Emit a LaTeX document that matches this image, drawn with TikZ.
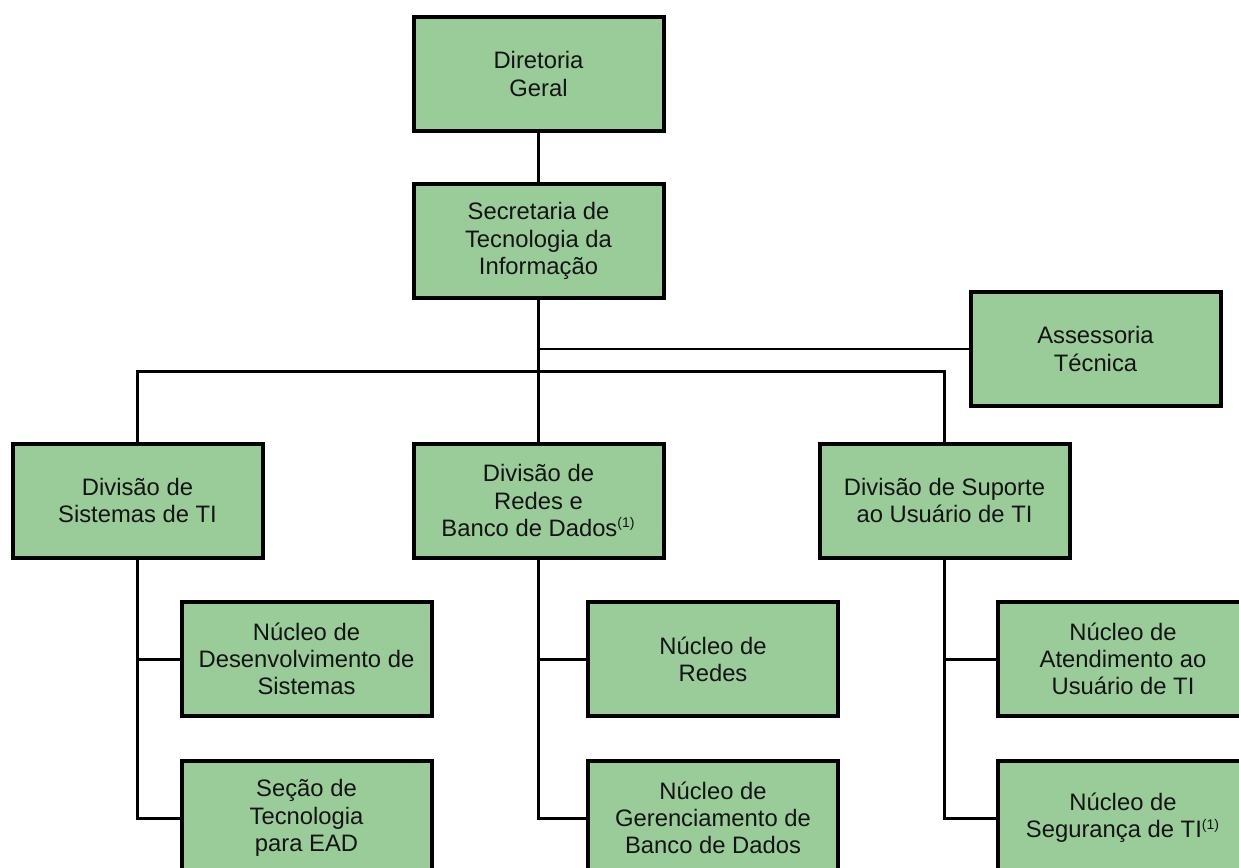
\documentclass[tikz,border=0pt]{standalone}
\usepackage{fontspec}
\setmainfont{Liberation Sans}
\definecolor{boxgreen}{RGB}{153,204,153}
\definecolor{ink}{RGB}{20,20,20}
\begin{document}
\begin{tikzpicture}[x=0.5pt,y=-0.5pt,
  orgbox/.style={draw=black, fill=boxgreen, line width=2pt, minimum width=125pt, minimum height=57pt,
    inner sep=0pt, align=center, text=ink, font=\fontsize{11.9pt}{13.6pt}\selectfont},
  link/.style={line width=1.5pt, black},
  thinlink/.style={line width=1.1pt, black}]
\useasboundingbox (0,0) rectangle (1239,868);
\clip (0,0) rectangle (1239,868);
\newcommand{\supone}{\textsuperscript{\fontsize{7pt}{8pt}\selectfont(1)}}
\node[orgbox] (dg) at (538.5,74) {Diretoria\\Geral};
\node[orgbox] (sec) at (538.5,241) {Secretaria de\\Tecnologia da\\Informação};
\node[orgbox] (ass) at (1095.5,349) {Assessoria\\Técnica};
\node[orgbox] (d1) at (137.5,500.5) {Divisão de\\Sistemas de TI};
\node[orgbox] (d2) at (538.5,500.5) {Divisão de\\Redes e\\Banco de Dados\supone};
\node[orgbox] (d3) at (944.5,500.5) {Divisão de Suporte\\ao Usuário de TI};
\node[orgbox] (n11) at (306.5,659) {Núcleo de\\Desenvolvimento de\\Sistemas};
\node[orgbox] (n12) at (306.5,818) {Seção de\\Tecnologia\\para EAD};
\node[orgbox] (n21) at (713,659) {Núcleo de\\Redes};
\node[orgbox] (n22) at (713,818) {Núcleo de\\Gerenciamento de\\Banco de Dados};
\node[orgbox] (n31) at (1123,659) {Núcleo de\\Atendimento ao\\Usuário de TI};
\node[orgbox] (n32) at (1123,818) {Núcleo de\\Segurança de TI\supone};
\coordinate (bus) at (538.5,371);
\coordinate (aj) at (538.5,349);
\draw[link] (dg.south) -- (sec.north);
\draw[link] (sec.south) -- (d2.north);
\draw[link] (d1.north) -- (d1.north |- bus) -- (d3.north |- bus) -- (d3.north);
\draw[thinlink] (aj) -- (ass.west);
\draw[link] (d1.south) |- (n12.west);
\draw[link] (d1.south |- n11.west) -- (n11.west);
\draw[link] (d2.south) |- (n22.west);
\draw[link] (d2.south |- n21.west) -- (n21.west);
\draw[link] (d3.south) |- (n32.west);
\draw[link] (d3.south |- n31.west) -- (n31.west);
\end{tikzpicture}
\end{document}
